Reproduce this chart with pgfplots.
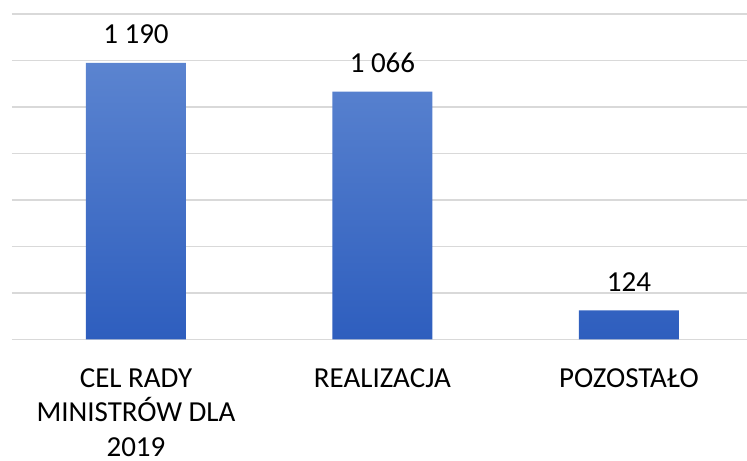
\documentclass[border=0pt]{standalone}
\usepackage{fontspec}
\setmainfont{Carlito}
\usepackage{pgfplots}
\pgfplotsset{compat=1.18}
\definecolor{gridc}{HTML}{D9D9D9}
\definecolor{bartop}{HTML}{5B84D0}
\definecolor{barbot}{HTML}{2E5EBE}
\begin{document}
\begin{tikzpicture}
\path[use as bounding box] (-12bp,-121.7bp) rectangle (735bp,339.3bp);
\begin{axis}[
  scale only axis,
  width=735bp, height=325.3bp,
  xmin=-0.503, xmax=2.479,
  ymin=0, ymax=1400,
  ytick={0,200,...,1400},
  yticklabels={},
  ymajorgrids,
  major grid style={draw=gridc, line width=1.5bp},
  axis line style={draw=none},
  major tick length=0pt,
  tick style={draw=none},
  xtick={0,1,2},
  xticklabels={{CEL RADY\\MINISTRÓW DLA\\2019},{REALIZACJA},{POZOSTAŁO}},
  xticklabel style={align=center, inner sep=0pt, yshift=-28.7bp,
    font=\fontsize{29bp}{34.5bp}\selectfont},
  ybar, bar width=100bp,
  nodes near coords,
  every node near coord/.append style={inner sep=0pt, yshift=18.7bp, text=black,
    font=\fontsize{29bp}{34.5bp}\selectfont,
    /pgf/number format/.cd, 1000 sep={\ }, assume math mode=true},
  clip=false,
]
\addplot[draw=none, top color=bartop, bottom color=barbot] coordinates {(0,1190) (1,1066) (2,124)};
\end{axis}
\end{tikzpicture}
\end{document}
